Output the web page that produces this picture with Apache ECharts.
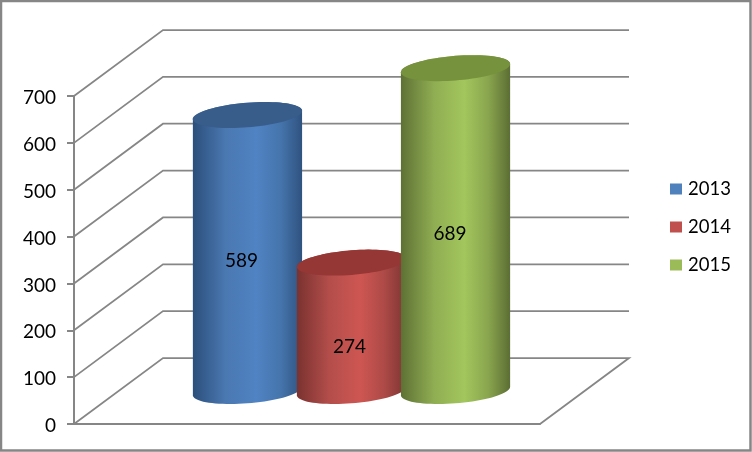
<!DOCTYPE html>
<html>
<head>
<meta charset="utf-8">
<style>html,body{margin:0;padding:0;background:#fff}#c{width:752px;height:452px}</style>
<script src="https://cdn.jsdelivr.net/npm/echarts@6/dist/echarts.min.js"></script>
</head>
<body>
<div id="c"></div>
<script>
const seriesNames = ['2013', '2014', '2015'];
const seriesValues = [589, 274, 689];
const yTicks = [0, 100, 200, 300, 400, 500, 600, 700];
const bodyStops = [
  ['#2c4f7c', '#4a78b1', '#5083c3', '#4675ad', '#2f5380'],
  ['#7a3230', '#b44e4b', '#ce5652', '#ad4a47', '#7c3432'],
  ['#5e7135', '#8fad52', '#a3c65d', '#89a54e', '#5c6e34']
];
const topColors = ['#385d8a', '#953735', '#76923c'];
const swatches = ['#4f81bd', '#c0504d', '#9bbb59'];

const XMIN = -1.24, XMAX = 3.24, DX = 89, DY = -66;
const FONT = '19px Lato, sans-serif';
const labelNudge = [-6, -2, -5.5];

function ellipse(cx, cy, a, k, b, from, to, n) {
  const pts = [];
  for (let i = 0; i <= n; i++) {
    const t = from + (to - from) * i / n;
    pts.push([cx + a * Math.cos(t), cy - k * Math.cos(t) + b * Math.sin(t)]);
  }
  return pts;
}

function cylinderSeries(i) {
  return {
    type: 'custom',
    name: seriesNames[i],
    itemStyle: { color: swatches[i] },
    data: [[i, seriesValues[i]]],
    z: 3 + i,
    renderItem: function (params, api) {
      const x = api.value(0), v = api.value(1);
      const unit = api.coord([x + 1, 0])[0] - api.coord([x, 0])[0];
      const a = unit * 0.525, k = 4.2, b = 12.3;
      const base = api.coord([x, 0]);
      const head = api.coord([x, v]);
      const cx = base[0] + DX / 2;
      const by = base[1] + DY / 2, ty = head[1] + DY / 2;
      const body = ellipse(cx, ty, a, k, b, Math.PI, 2 * Math.PI, 40)
        .concat(ellipse(cx, by, a, k, b, 0, Math.PI, 40));
      const stops = bodyStops[i];
      const offs = [0, 0.3, 0.58, 0.8, 1];
      const labelY = api.coord([x, v * 0.58])[1] - 3;
      return {
        type: 'group',
        children: [
          { type: 'polygon', shape: { points: body }, style: {
              fill: new echarts.graphic.LinearGradient(0, 0, 1, 0,
                stops.map((c, j) => ({ offset: offs[j], color: c }))) } },
          { type: 'polygon', shape: { points: ellipse(cx, ty, a, k, b, 0, 2 * Math.PI, 80) },
            style: { fill: topColors[i] } },
          { type: 'text', style: { text: String(v), x: cx + labelNudge[i], y: labelY,
              textAlign: 'center', textVerticalAlign: 'middle', font: FONT, fill: '#000' } }
        ]
      };
    }
  };
}

const wallSeries = {
  type: 'custom',
  name: 'walls',
  data: yTicks.map(v => [v]),
  z: 1,
  silent: true,
  renderItem: function (params, api) {
    const v = api.value(0);
    const l = api.coord([XMIN, v]), r = api.coord([XMAX, v]);
    const pts = [l, [l[0] + DX, l[1] + DY], [r[0] + DX, r[1] + DY]];
    if (v === 0) pts.push(r);
    return { type: 'polyline', shape: { points: pts },
      style: { stroke: '#868686', lineWidth: 1.75, fill: null } };
  }
};

const chart = echarts.init(document.getElementById('c'), null, { renderer: 'canvas' });
chart.setOption({
  animation: false,
  backgroundColor: '#fff',
  graphic: [{ type: 'rect', z: 100, silent: true, shape: { x: 1, y: 1, width: 749.5, height: 449.5 },
    style: { fill: null, stroke: '#868686', lineWidth: 2.5 } }],
  grid: { left: 74, top: 96, right: 212, bottom: 28 },
  xAxis: { type: 'value', min: XMIN, max: XMAX,
    axisLine: { show: true, onZero: false, lineStyle: { color: '#868686', width: 2 } },
    axisTick: { show: false }, axisLabel: { show: false }, splitLine: { show: false } },
  yAxis: { type: 'value', min: 0, max: 700, interval: 100,
    axisLine: { show: true, onZero: false, lineStyle: { color: '#868686', width: 2 } },
    axisTick: { show: true, length: 7, lineStyle: { color: '#868686', width: 2 } },
    axisLabel: { margin: 18, fontFamily: 'Lato', fontSize: 19, color: '#000', verticalAlign: 'top', lineHeight: 4 },
    splitLine: { show: false } },
  legend: { orient: 'vertical', left: 665, top: 174, itemWidth: 12, itemHeight: 11, itemGap: 18,
    icon: 'rect', data: seriesNames,
    textStyle: { fontFamily: 'Lato', fontSize: 18.5, color: '#000', lineHeight: 20, padding: [0, 0, 0, 1] } },
  series: [wallSeries].concat(seriesNames.map((_, i) => cylinderSeries(i)))
});
</script>
</body>
</html>
